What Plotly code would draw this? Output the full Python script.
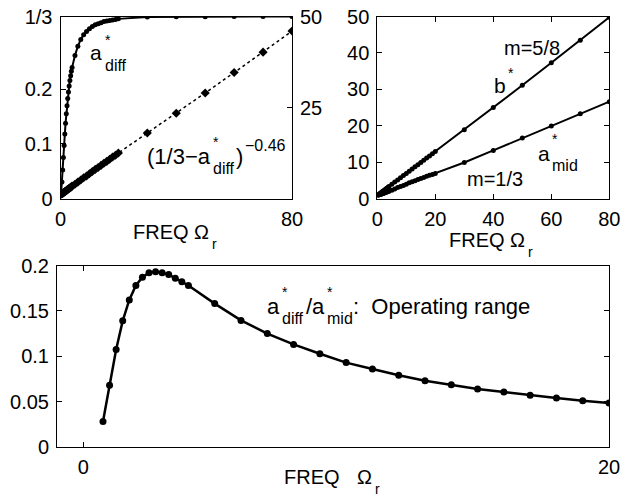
import plotly.graph_objects as go

# ---------------- data ----------------
freq_top = [0.25, 0.5, 0.75, 1.0, 1.25, 1.5, 1.75, 2.0, 2.25, 2.5, 2.75, 3.0, 3.25, 3.5, 3.75, 4.0,
            5, 6, 7, 8, 9, 10, 11, 12, 13, 14, 15, 16, 17, 18, 19, 20,
            30, 40, 50, 60, 70, 80]
a_diff = [0.012, 0.030, 0.052, 0.075, 0.097, 0.118, 0.138, 0.155, 0.170, 0.183, 0.195, 0.206, 0.216, 0.225, 0.233, 0.240,
          0.262, 0.279, 0.291, 0.300, 0.306, 0.311, 0.315, 0.318, 0.320, 0.322, 0.324, 0.325, 0.326, 0.327, 0.328, 0.329,
          0.3325, 0.333, 0.333, 0.3333, 0.3333, 0.3333]
power_term = [1.1, 1.3, 1.4, 1.6, 1.7, 1.9, 2.0, 2.2, 2.3, 2.5, 2.6, 2.8, 2.9, 3.1, 3.2, 3.4,
              3.9, 4.5, 5.1, 5.7, 6.2, 6.8, 7.4, 8.0, 8.5, 9.1, 9.7, 10.2, 10.8, 11.4, 11.9, 12.5,
              18.0, 23.4, 29.0, 34.6, 40.2, 46.0]
b_star = [1.0, 1.1, 1.3, 1.4, 1.6, 1.7, 1.9, 2.0, 2.2, 2.3, 2.5, 2.6, 2.8, 2.9, 3.1, 3.3,
          3.9, 4.5, 5.1, 5.7, 6.3, 6.9, 7.5, 8.1, 8.7, 9.3, 9.9, 10.5, 11.1, 11.7, 12.3, 12.9,
          18.9, 25.0, 31.1, 37.3, 43.5, 49.8]
a_mid = [0.9, 1.0, 1.0, 1.1, 1.2, 1.3, 1.3, 1.4, 1.5, 1.6, 1.6, 1.7, 1.8, 1.9, 1.9, 2.0,
         2.3, 2.6, 3.0, 3.3, 3.6, 3.9, 4.3, 4.6, 4.9, 5.2, 5.5, 5.8, 6.1, 6.4, 6.6, 6.9,
         9.9, 13.2, 16.6, 19.9, 23.3, 26.6]

freq_bot = [0.75, 1.0, 1.25, 1.5, 1.75, 2.0, 2.25, 2.5, 2.75, 3.0, 3.25, 3.5, 3.75, 4.0,
            5, 6, 7, 8, 9, 10, 11, 12, 13, 14, 15, 16, 17, 18, 19, 20]
ratio = [0.028, 0.068, 0.1075, 0.139, 0.162, 0.178, 0.187, 0.192, 0.193, 0.192, 0.190, 0.186, 0.182, 0.178,
         0.158, 0.1395, 0.125, 0.113, 0.1027, 0.093, 0.086, 0.079, 0.073, 0.0686, 0.064, 0.0605, 0.057, 0.054, 0.051, 0.0484]

tl_y_ticks = [0, 0.1, 0.2, 1/3]
tl_y_text = ["0", "0.1", "0.2", "1/3"]
tl_y2_ticks = [25, 50]
tr_y_ticks = [0, 10, 20, 30, 40, 50]
tr_x_ticks = [0, 20, 40, 60, 80]
bot_y_ticks = [0, 0.05, 0.1, 0.15, 0.2]
bot_y_text = ["0", "0.05", "0.1", "0.15", "0.2"]

# ---------------- layout helpers ----------------
# positions below are window pixels of the reference (page margin removed)
W, H = 634, 500
FONT = "Liberation Sans, Arial, sans-serif"
TICK = 20


def px(x):
    return x / W


def py(y):
    return 1 - y / H


fig = go.Figure()

line = dict(color="black", width=2)
dot = dict(symbol="circle", size=5, color="black")

fig.add_trace(go.Scatter(x=freq_top, y=a_diff, mode="lines+markers", line=line, marker=dot,
                         xaxis="x", yaxis="y", showlegend=False))
fig.add_trace(go.Scatter(x=freq_top, y=power_term, mode="lines+markers",
                         line=dict(color="black", width=1.5, dash="dot"),
                         marker=dict(symbol="diamond", size=7, color="black"),
                         xaxis="x", yaxis="y4", showlegend=False))
fig.add_trace(go.Scatter(x=freq_top, y=b_star, mode="lines+markers", line=line, marker=dot,
                         xaxis="x2", yaxis="y2", showlegend=False))
fig.add_trace(go.Scatter(x=freq_top, y=a_mid, mode="lines+markers", line=line, marker=dot,
                         xaxis="x2", yaxis="y2", showlegend=False))
fig.add_trace(go.Scatter(x=freq_bot, y=ratio, mode="lines+markers",
                         line=dict(color="black", width=2.5),
                         marker=dict(symbol="circle", size=7, color="black"),
                         xaxis="x3", yaxis="y3", showlegend=False))

ax_common = dict(showline=True, linecolor="black", linewidth=1, ticks="inside", ticklen=5,
                 tickcolor="black", showgrid=False, zeroline=False, automargin=False,
                 ticklabeloverflow="allow",
                 tickfont=dict(family=FONT, size=TICK, color="black"))

top_y = [py(198.5), py(16.5)]

fig.update_layout(
    width=W, height=H, margin=dict(l=0, r=0, t=0, b=0),
    paper_bgcolor="white", plot_bgcolor="white",
    xaxis=dict(domain=[px(60.5), px(292)], range=[0, 80], tickvals=[0, 80], mirror="ticks",
               anchor="y", ticklabelstandoff=2, **ax_common),
    yaxis=dict(domain=top_y, range=[0, 1/3], tickvals=tl_y_ticks, ticktext=tl_y_text,
               mirror=True, anchor="x", ticklabelstandoff=3, **ax_common),
    yaxis4=dict(range=[0, 50], tickvals=tl_y2_ticks, overlaying="y", side="right", anchor="x",
                ticklabelstandoff=3, **ax_common),
    xaxis2=dict(domain=[px(377.3), px(609.3)], range=[0, 80], tickvals=tr_x_ticks, mirror="ticks",
                anchor="y2", ticklabelstandoff=2, **ax_common),
    yaxis2=dict(domain=top_y, range=[0, 50], tickvals=tr_y_ticks, mirror="ticks", anchor="x2",
                ticklabelstandoff=3, **ax_common),
    xaxis3=dict(domain=[px(57), px(609)], range=[-1, 20], tickvals=[0, 20], mirror="ticks",
                anchor="y3", ticklabelstandoff=2, **ax_common),
    yaxis3=dict(domain=[py(447), py(265.5)], range=[0, 0.2], tickvals=bot_y_ticks, ticktext=bot_y_text,
                mirror="ticks", anchor="x3", ticklabelstandoff=3, **ax_common),
)

anns = []


def ann(text, x, y, size=20, xanchor="left", yanchor="middle"):
    anns.append(dict(text=text, x=px(x), y=py(y), xref="paper", yref="paper", showarrow=False,
                     xanchor=xanchor, yanchor=yanchor,
                     font=dict(family=FONT, size=size, color="black")))


MAIN, SMALL, STAR = 22, 16, 14

# top-left: a*_diff
ann("a", 88, 53, 21)
ann("*", 103, 40, STAR)
ann("diff", 103, 65, SMALL)
# top-left: (1/3 - a*_diff)^-0.46
ann("(1/3\u2212a", 145, 156, MAIN)
ann("*", 211, 142, STAR)
ann("diff", 211, 168, SMALL)
ann(")", 234, 156, MAIN)
ann("\u22120.46", 243, 145, SMALL)

# top-right labels
ann("m=5/8", 532, 48, 20, xanchor="center")
ann("b", 492, 86, 21)
ann("*", 506, 73, STAR)
ann("a", 536, 153, 21)
ann("*", 550, 139, STAR)
ann("mid", 550, 165, SMALL)
ann("m=1/3", 495, 179, 20, xanchor="center")

# bottom label: a*_diff / a*_mid:  Operating range
ann("a", 265, 306, MAIN)
ann("*", 280, 292, STAR)
ann("diff", 280, 318, SMALL)
ann("/a", 304, 306, MAIN)
ann("*", 325, 292, STAR)
ann("mid", 325, 318, SMALL)
ann(":\u00a0\u00a0Operating range", 351, 306, MAIN)

# axis titles
ann("FREQ \u03a9", 131, 232, 20)
ann("r", 210, 244, STAR)
ann("FREQ \u03a9", 447, 240, 20)
ann("r", 526, 252, STAR)
ann("FREQ", 282, 477, 20)
ann("\u03a9", 355, 477, 20)
ann("r", 373, 489, STAR)

fig.update_layout(annotations=anns)

fig.write_html("out.html",
               config={"displayModeBar": False},
               post_script="document.body.style.margin='0px';document.body.style.overflow='hidden';")
